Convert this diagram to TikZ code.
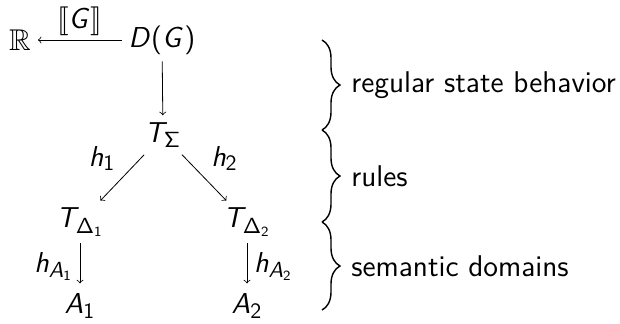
\documentclass[tikz,border=0pt]{standalone}
\usepackage{amsmath,amssymb}
\usepackage{stmaryrd}
\renewcommand{\familydefault}{\sfdefault}
\usetikzlibrary{decorations.pathreplacing}

% sans serif math letters, as in slides
\DeclareSymbolFont{sfslanted}{OT1}{cmss}{m}{sl}
\DeclareSymbolFont{sfupright}{OT1}{cmss}{m}{n}
\DeclareMathSymbol{A}{\mathalpha}{sfslanted}{`A}
\DeclareMathSymbol{D}{\mathalpha}{sfslanted}{`D}
\DeclareMathSymbol{G}{\mathalpha}{sfslanted}{`G}
\DeclareMathSymbol{T}{\mathalpha}{sfslanted}{`T}
\DeclareMathSymbol{h}{\mathalpha}{sfslanted}{`h}
\DeclareMathSymbol{1}{\mathalpha}{sfupright}{`1}
\DeclareMathSymbol{2}{\mathalpha}{sfupright}{`2}
\DeclareMathSymbol{(}{\mathopen}{sfupright}{`(}
\DeclareMathSymbol{)}{\mathclose}{sfupright}{`)}
\DeclareMathSymbol{\Sigma}{\mathalpha}{sfupright}{6}
\DeclareMathSymbol{\Delta}{\mathalpha}{sfupright}{1}

\tikzset{
  map/.style={->},
  lvl/.style={decorate, decoration={brace, amplitude=9pt}, line width=0.7pt},
  note/.style={midway, anchor=west, xshift=11pt}
}

\begin{document}
\begin{tikzpicture}[x=0.5pt, y=-0.5pt, font=\fontsize{15}{18}\selectfont]
\useasboundingbox (0,0) rectangle (620,323);
% the diagram
\node (reals) at (20,40) {$\mathbb{R}$};
\node (dg) at (162,40) {$D(G)$};
\node (tsig) at (163,135) {$T_\Sigma$};
\node (td1) at (80,222) {$T_{\Delta_1}$};
\node (td2) at (247,222) {$T_{\Delta_2}$};
\node[inner sep=2pt] (a1) at (80,306) {$A_1$};
\node[inner sep=2pt] (a2) at (247,306) {$A_2$};
\draw[map] (dg) -- (reals) node[midway, above, inner sep=2pt] (lsem) {$\llbracket G\rrbracket$};
\draw[map] (dg) -- (tsig);
\draw[map] (tsig) -- (td1) node[midway, above left] (lh1) {$h_1$};
\draw[map] (tsig) -- (td2) node[midway, above right] (lh2) {$h_2$};
\draw[map, shorten >=3pt] (td1) -- (a1) node[midway, left] (lha1) {$h_{A_1}$};
\draw[map, shorten >=3pt] (td2) -- (a2) node[midway, right] (lha2) {$h_{A_2}$};
% levels
\draw[lvl] (322,40) -- (322,130) node[note] (lreg) {regular state behavior};
\draw[lvl] (322,130) -- (322,222) node[note] (lrules) {rules};
\draw[lvl] (322,222) -- (322,310) node[note] (lsd) {semantic domains};
\end{tikzpicture}
\end{document}
